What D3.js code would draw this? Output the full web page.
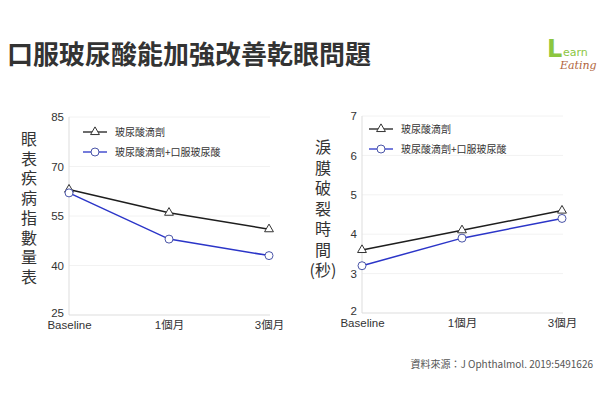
<!DOCTYPE html>
<html><head><meta charset="utf-8">
<script src="https://cdn.jsdelivr.net/npm/d3@7"></script>
<style>body{margin:0;background:#fff}svg{display:block}</style>
</head><body><svg id="c" width="600" height="404"></svg>
<script>
const categories = ["Baseline", "1個月", "3個月"];
const seriesNames = ["玻尿酸滴劑", "玻尿酸滴劑+口服玻尿酸"];
const osdiDrops = [63, 56, 51];
const osdiCombo = [62, 48, 43];
const osdiTicks = [25, 40, 55, 70, 85];
const tbutDrops = [3.6, 4.1, 4.6];
const tbutCombo = [3.2, 3.9, 4.4];
const tbutTicks = [2, 3, 4, 5, 6, 7];
const title = "口服玻尿酸能加強改善乾眼問題";
const leftLabel = "眼表疾病指數量表";
const rightLabel = "淚膜破裂時間";
const rightUnit = "(秒)";
const source = "資料來源：J Ophthalmol. 2019:5491626";

const svg = d3.select("#c");
const FONT = "'Noto Sans CJK TC','Noto Sans CJK SC',sans-serif";
svg.append("text").attr("x", 7).attr("y", 64).attr("font-family", FONT)
  .attr("font-size", 26).attr("font-weight", "bold").attr("fill", "#333").text(title);

// logo
const logo = svg.append("g");
logo.append("text").attr("x", 547).attr("y", 57).attr("font-family", "'DejaVu Sans',sans-serif")
  .attr("font-weight", "bold").attr("font-size", 24).attr("fill", "#8cc63f").text("L");
logo.append("text").attr("x", 563).attr("y", 56).attr("font-family", "'DejaVu Sans',sans-serif")
  .attr("font-size", 11).attr("fill", "#8cc63f").text("earn");
logo.append("text").attr("x", 560).attr("y", 69).attr("font-family", "'DejaVu Serif',serif")
  .attr("font-style", "italic").attr("font-size", 11).attr("fill", "#b0643c").text("Eating");

svg.append("text").attr("x", 593).attr("y", 368).attr("text-anchor", "end")
  .attr("font-family", FONT).attr("font-size", 10).attr("fill", "#555").text(source);

function chart(cfg) {
  const g = svg.append("g");
  const x = d3.scalePoint().domain(categories).range([cfg.x0, cfg.x1]);
  const y = d3.scaleLinear().domain(cfg.domain).range([cfg.yb, cfg.yt]);
  g.selectAll(".grid").data(cfg.ticks.slice(1)).join("line")
    .attr("x1", cfg.x0).attr("x2", cfg.x1 + 1).attr("y1", d => y(d)).attr("y2", d => y(d))
    .attr("stroke", "#f2f2f2").attr("stroke-width", 1);
  g.append("line").attr("x1", cfg.x0).attr("x2", cfg.x0).attr("y1", cfg.yt).attr("y2", cfg.yb)
    .attr("stroke", "#ddd");
  g.append("line").attr("x1", cfg.x0).attr("x2", cfg.x1 + 1).attr("y1", cfg.yb).attr("y2", cfg.yb)
    .attr("stroke", "#ddd");
  const yAxis = d3.axisLeft(y).tickValues(cfg.ticks).tickFormat(d3.format("d")).tickSize(0).tickPadding(5);
  const ya = g.append("g").attr("transform", `translate(${cfg.x0},0)`).call(yAxis);
  ya.select(".domain").remove();
  ya.selectAll("text").attr("font-family", "'Liberation Sans',Arial,sans-serif").attr("font-size", 11.5).attr("fill", "#333")
    .attr("dy", d => d === cfg.domain[0] ? "0.1em" : "0.32em");
  const xAxis = d3.axisBottom(x).tickSize(0).tickPadding(4);
  const xa = g.append("g").attr("transform", `translate(0,${cfg.yb})`).call(xAxis);
  xa.select(".domain").remove();
  xa.selectAll("text").attr("font-family", "'Liberation Sans'," + FONT).attr("font-size", 11.5).attr("fill", "#333").attr("dy", "0.9em");
  // vertical y label
  g.append("text").attr("x", cfg.lx).attr("y", cfg.ly).attr("writing-mode", "vertical-rl")
    .attr("letter-spacing", cfg.lsp).attr("font-family", FONT).attr("font-size", 16).attr("fill", "#333")
    .text(cfg.label);
  if (cfg.unit) g.append("text").attr("x", cfg.lx).attr("y", cfg.uy).attr("text-anchor", "middle")
    .attr("font-family", FONT).attr("font-size", 16).attr("fill", "#333").text(cfg.unit);
  const line = d3.line().x((d, i) => x(categories[i])).y(d => y(d));
  g.append("path").datum(cfg.a).attr("d", line).attr("fill", "none").attr("stroke", "#1e1e1e").attr("stroke-width", 1.5);
  g.append("path").datum(cfg.b).attr("d", line).attr("fill", "none").attr("stroke", "#2b35c8").attr("stroke-width", 1.5);
  const tri = d3.symbol().type(d3.symbolTriangle).size(34);
  g.selectAll(".ta").data(cfg.a).join("path")
    .attr("transform", (d, i) => `translate(${x(categories[i])},${y(d)})`).attr("d", tri)
    .attr("fill", "#fff").attr("stroke", "#333").attr("stroke-width", 1);
  g.selectAll(".cb").data(cfg.b).join("circle")
    .attr("cx", (d, i) => x(categories[i])).attr("cy", d => y(d)).attr("r", 4)
    .attr("fill", "#fff").attr("stroke", "#4a55a8").attr("stroke-width", 1);
  const lg = g.append("g");
  const rows = [{c: "#1e1e1e", m: "t"}, {c: "#2b35c8", m: "c"}];
  rows.forEach((r, i) => {
    const yy = cfg.legY + i * 20;
    lg.append("line").attr("x1", cfg.legX).attr("x2", cfg.legX + 24).attr("y1", yy).attr("y2", yy)
      .attr("stroke", r.c).attr("stroke-width", 1.3);
    if (r.m === "t") lg.append("path").attr("transform", `translate(${cfg.legX + 12},${yy})`).attr("d", tri)
      .attr("fill", "#fff").attr("stroke", "#333");
    else lg.append("circle").attr("cx", cfg.legX + 12).attr("cy", yy).attr("r", 4)
      .attr("fill", "#fff").attr("stroke", "#4a55a8");
    lg.append("text").attr("x", cfg.legX + 32).attr("y", yy).attr("dy", "0.35em")
      .attr("font-family", FONT).attr("font-size", 10).attr("fill", "#333").text(seriesNames[i]);
  });
}

chart({x0: 69, x1: 269, yt: 117, yb: 315, domain: [25, 85], ticks: osdiTicks,
  a: osdiDrops, b: osdiCombo, label: leftLabel, lx: 29, ly: 131, lsp: 3.7, legX: 83, legY: 132});
chart({x0: 362, x1: 562, yt: 116, yb: 313, domain: [2, 7], ticks: tbutTicks,
  a: tbutDrops, b: tbutCombo, label: rightLabel, unit: rightUnit, uy: 276, lx: 323, ly: 139, lsp: 4.5, legX: 369, legY: 129});
</script></body></html>
